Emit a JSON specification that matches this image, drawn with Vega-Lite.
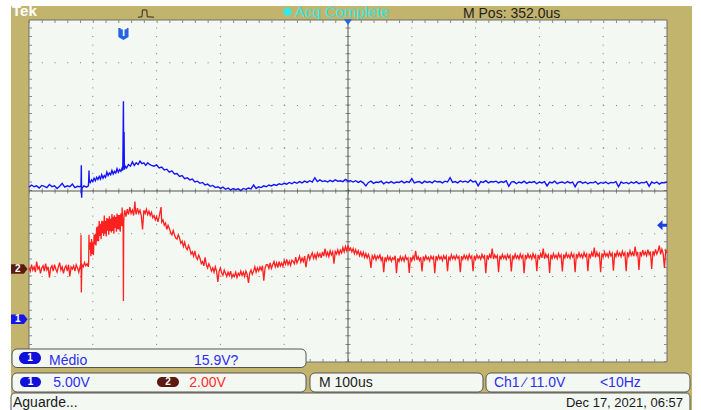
{
  "$schema": "https://vega.github.io/schema/vega-lite/v6.json",
  "width": 638,
  "height": 342,
  "autosize": {"type": "none"},
  "padding": {"left": 29, "top": 20, "right": 34, "bottom": 48},
  "background": "#ffffff",
  "config": {"view": {"stroke": null}, "text": {"font": "Liberation Sans"}},
  "resolve": {"scale": {"x": "shared", "y": "independent"}},
  "data": {"values": [{}]},
  "datasets": {
    "vgrid": [{"t": -48}, {"t": 52}, {"t": 152}, {"t": 252}, {"t": 452}, {"t": 552}, {"t": 652}, {"t": 752}],
    "hgrid": [{"d": -3}, {"d": -2}, {"d": -1}, {"d": 1}, {"d": 2}, {"d": 3}],
    "ch1": [
      {"t":-148,"v":15.45},{"t":-144,"v":15.7},{"t":-140,"v":15.5},{"t":-136,"v":15.6},{"t":-132,"v":15.35},{"t":-128,"v":15.65},{"t":-124,"v":15.55},{"t":-120,"v":15.4},{"t":-116,"v":15.75},{"t":-112,"v":15.5},{"t":-108,"v":15.6},{"t":-104,"v":15.3},{"t":-100,"v":15.55},{"t":-96,"v":15.9},{"t":-92,"v":15.45},{"t":-88,"v":15.6},{"t":-84,"v":15.5},{"t":-80,"v":15.8},{"t":-76,"v":15.4},{"t":-72,"v":15.55},{"t":-68,"v":15.5},{"t":-66.5,"v":15.6},{"t":-66,"v":18.0},{"t":-65.5,"v":14.2},{"t":-65,"v":15.3},{"t":-62,"v":15.6},{"t":-58,"v":15.45},{"t":-55,"v":15.6},{"t":-54.5,"v":16.0},{"t":-54,"v":17.4},{"t":-53.5,"v":16.2},{"t":-52,"v":16.0},{"t":-50,"v":16.3},{"t":-48,"v":16.1},{"t":-46,"v":16.5},{"t":-44,"v":16.2},{"t":-42,"v":16.6},{"t":-40,"v":16.35},{"t":-38,"v":16.7},{"t":-36,"v":16.4},{"t":-34,"v":16.9},{"t":-32,"v":16.5},{"t":-30,"v":16.8},{"t":-28,"v":16.6},{"t":-26,"v":17.2},{"t":-24,"v":16.8},{"t":-22,"v":17.1},{"t":-20,"v":16.9},{"t":-18,"v":17.4},{"t":-16,"v":17.0},{"t":-14,"v":17.3},{"t":-12,"v":17.1},{"t":-10,"v":17.6},{"t":-8,"v":17.2},{"t":-6,"v":17.5},{"t":-4,"v":17.3},{"t":-2,"v":17.7},{"t":-1,"v":17.4},{"t":0,"v":25.5},{"t":0.5,"v":17.6},{"t":1,"v":21.9},{"t":1.5,"v":17.5},{"t":3,"v":17.9},{"t":5,"v":17.7},{"t":8,"v":18.1},{"t":11,"v":17.9},{"t":14,"v":18.4},{"t":17,"v":18.0},{"t":20,"v":18.3},{"t":23,"v":18.1},{"t":26,"v":18.5},{"t":29,"v":18.2},{"t":32,"v":18.3},{"t":35,"v":18.0},{"t":38,"v":18.3},{"t":41,"v":18.1},{"t":44,"v":18.0},{"t":48,"v":17.9},{"t":52,"v":18.05},{"t":56,"v":17.7},{"t":60,"v":17.8},{"t":64,"v":17.45},{"t":68,"v":17.55},{"t":72,"v":17.2},{"t":76,"v":17.35},{"t":80,"v":17.0},{"t":84,"v":17.05},{"t":88,"v":16.7},{"t":92,"v":16.8},{"t":96,"v":16.45},{"t":100,"v":16.55},{"t":104,"v":16.3},{"t":108,"v":16.4},{"t":112,"v":16.05},{"t":116,"v":16.15},{"t":120,"v":15.9},{"t":124,"v":16.0},{"t":128,"v":15.7},{"t":132,"v":15.8},{"t":136,"v":15.55},{"t":140,"v":15.65},{"t":144,"v":15.4},{"t":148,"v":15.5},{"t":152,"v":15.3},{"t":156,"v":15.45},{"t":160,"v":15.2},{"t":164,"v":15.35},{"t":168,"v":15.1},{"t":172,"v":15.3},{"t":176,"v":15.15},{"t":180,"v":15.25},{"t":184,"v":15.05},{"t":188,"v":15.3},{"t":192,"v":15.2},{"t":196,"v":15.35},{"t":200,"v":15.25},{"t":204,"v":15.7},{"t":208,"v":15.3},{"t":212,"v":15.5},{"t":216,"v":15.4},{"t":220,"v":15.6},{"t":224,"v":15.5},{"t":228,"v":15.7},{"t":232,"v":15.6},{"t":236,"v":15.75},{"t":240,"v":15.65},{"t":244,"v":15.85},{"t":248,"v":15.75},{"t":252,"v":15.9},{"t":256,"v":15.8},{"t":260,"v":16.0},{"t":264,"v":15.85},{"t":268,"v":16.05},{"t":272,"v":15.9},{"t":276,"v":16.1},{"t":280,"v":15.95},{"t":284,"v":16.15},{"t":288,"v":16.0},{"t":292,"v":16.2},{"t":296,"v":16.05},{"t":300,"v":16.55},{"t":304,"v":16.1},{"t":308,"v":16.3},{"t":312,"v":16.1},{"t":316,"v":16.2},{"t":320,"v":16.05},{"t":324,"v":16.25},{"t":328,"v":16.1},{"t":332,"v":16.3},{"t":336,"v":16.15},{"t":340,"v":16.2},{"t":344,"v":16.1},{"t":348,"v":16.35},{"t":352,"v":16.15},{"t":356,"v":16.2},{"t":360,"v":16.05},{"t":364,"v":16.2},{"t":368,"v":16.0},{"t":372,"v":16.15},{"t":376,"v":15.95},{"t":380,"v":15.6},{"t":384,"v":16.0},{"t":388,"v":16.15},{"t":392,"v":15.9},{"t":396,"v":16.05},{"t":400,"v":16.0},{"t":404,"v":16.15},{"t":408,"v":15.85},{"t":412,"v":16.05},{"t":416,"v":15.95},{"t":420,"v":16.1},{"t":424,"v":15.9},{"t":428,"v":16.05},{"t":432,"v":16.0},{"t":436,"v":16.15},{"t":440,"v":15.95},{"t":444,"v":16.1},{"t":448,"v":16.0},{"t":452,"v":16.45},{"t":456,"v":15.95},{"t":460,"v":16.05},{"t":464,"v":16.1},{"t":468,"v":15.9},{"t":472,"v":16.15},{"t":476,"v":16.0},{"t":480,"v":16.1},{"t":484,"v":15.95},{"t":488,"v":16.2},{"t":492,"v":16.05},{"t":496,"v":16.1},{"t":500,"v":15.95},{"t":504,"v":16.15},{"t":508,"v":16.05},{"t":512,"v":16.55},{"t":516,"v":16.0},{"t":520,"v":16.1},{"t":524,"v":15.95},{"t":528,"v":16.2},{"t":532,"v":16.05},{"t":536,"v":16.15},{"t":540,"v":16.0},{"t":544,"v":16.3},{"t":548,"v":16.05},{"t":552,"v":16.15},{"t":556,"v":15.6},{"t":560,"v":16.1},{"t":564,"v":16.0},{"t":568,"v":16.2},{"t":572,"v":15.95},{"t":576,"v":16.1},{"t":580,"v":16.05},{"t":584,"v":16.15},{"t":588,"v":15.95},{"t":592,"v":16.1},{"t":596,"v":16.0},{"t":600,"v":16.2},{"t":604,"v":15.55},{"t":608,"v":16.05},{"t":612,"v":16.1},{"t":616,"v":15.85},{"t":620,"v":16.05},{"t":624,"v":15.95},{"t":628,"v":16.15},{"t":632,"v":15.9},{"t":636,"v":16.05},{"t":640,"v":16.0},{"t":644,"v":16.1},{"t":648,"v":15.85},{"t":652,"v":16.05},{"t":656,"v":15.95},{"t":660,"v":16.1},{"t":664,"v":15.6},{"t":668,"v":16.05},{"t":672,"v":15.95},{"t":676,"v":16.15},{"t":680,"v":15.85},{"t":684,"v":16.0},{"t":688,"v":16.05},{"t":692,"v":15.9},{"t":696,"v":16.1},{"t":700,"v":15.95},{"t":704,"v":16.05},{"t":708,"v":15.5},{"t":712,"v":16.0},{"t":716,"v":16.1},{"t":720,"v":15.9},{"t":724,"v":16.05},{"t":728,"v":15.85},{"t":732,"v":16.0},{"t":736,"v":15.95},{"t":740,"v":16.1},{"t":744,"v":15.8},{"t":748,"v":16.0},{"t":752,"v":15.9},{"t":756,"v":16.05},{"t":760,"v":15.85},{"t":764,"v":16.0},{"t":768,"v":15.95},{"t":772,"v":16.1},{"t":776,"v":15.5},{"t":780,"v":16.05},{"t":784,"v":15.9},{"t":788,"v":16.0},{"t":792,"v":15.85},{"t":796,"v":16.05},{"t":800,"v":15.9},{"t":804,"v":16.1},{"t":808,"v":15.85},{"t":812,"v":16.0},{"t":816,"v":15.95},{"t":820,"v":16.1},{"t":824,"v":15.55},{"t":828,"v":16.05},{"t":832,"v":15.9},{"t":836,"v":16.05},{"t":840,"v":15.8},{"t":844,"v":16.0},{"t":848,"v":15.95},{"t":852,"v":16.05}
    ],
    "ch2": [
      {"t":-148,"v":0.05},{"t":-146,"v":-0.1},{"t":-144,"v":0.2},{"t":-142,"v":-0.05},{"t":-140,"v":0.1},{"t":-138,"v":-0.15},{"t":-136,"v":0.35},{"t":-134,"v":0.0},{"t":-132,"v":0.1},{"t":-130,"v":-0.2},{"t":-128,"v":0.05},{"t":-126,"v":0.15},{"t":-124,"v":-0.1},{"t":-122,"v":0.25},{"t":-120,"v":-0.05},{"t":-118,"v":0.1},{"t":-116,"v":-0.4},{"t":-114,"v":0.05},{"t":-112,"v":0.15},{"t":-110,"v":-0.1},{"t":-108,"v":0.2},{"t":-106,"v":0.0},{"t":-104,"v":-0.15},{"t":-102,"v":0.1},{"t":-100,"v":0.3},{"t":-98,"v":-0.05},{"t":-96,"v":0.1},{"t":-94,"v":-0.2},{"t":-92,"v":0.05},{"t":-90,"v":0.15},{"t":-88,"v":-0.1},{"t":-86,"v":0.2},{"t":-84,"v":-0.35},{"t":-82,"v":0.1},{"t":-80,"v":0.0},{"t":-78,"v":0.15},{"t":-76,"v":-0.1},{"t":-74,"v":0.2},{"t":-72,"v":0.05},{"t":-70,"v":-0.15},{"t":-68,"v":0.1},{"t":-67,"v":0.0},{"t":-66.5,"v":1.6},{"t":-66,"v":-1.1},{"t":-65.5,"v":-0.4},{"t":-65,"v":0.2},{"t":-63,"v":0.1},{"t":-61,"v":0.3},{"t":-59,"v":0.15},{"t":-57,"v":0.25},{"t":-55,"v":0.1},{"t":-54.5,"v":0.3},{"t":-54,"v":1.6},{"t":-53.5,"v":0.9},{"t":-53,"v":1.1},
      {"t":-52,"v":1.25},{"t":-51,"v":0.6},{"t":-50,"v":1.4},{"t":-49,"v":0.7},{"t":-48,"v":1.25},{"t":-47,"v":0.65},{"t":-46,"v":1.6},{"t":-45,"v":1.15},{"t":-44,"v":1.65},{"t":-43,"v":1.1},{"t":-42,"v":1.95},{"t":-41,"v":1.3},{"t":-40,"v":2.0},{"t":-39,"v":1.3},{"t":-38,"v":2.25},{"t":-37,"v":1.55},{"t":-36,"v":2.12},{"t":-35,"v":1.39},{"t":-34,"v":2.26},{"t":-33,"v":1.67},{"t":-32,"v":2.23},{"t":-31,"v":1.55},{"t":-30,"v":2.5},{"t":-29,"v":1.65},{"t":-28,"v":2.26},{"t":-27,"v":1.52},{"t":-26,"v":2.38},{"t":-25,"v":1.79},{"t":-24,"v":2.35},{"t":-23,"v":1.6},{"t":-22,"v":2.47},{"t":-21,"v":1.78},{"t":-20,"v":2.35},{"t":-19,"v":1.71},{"t":-18,"v":2.57},{"t":-17,"v":1.78},{"t":-16,"v":2.44},{"t":-15,"v":1.65},{"t":-14,"v":2.51},{"t":-13,"v":1.92},{"t":-12,"v":2.43},{"t":-11,"v":1.74},{"t":-10,"v":2.6},{"t":-9,"v":1.86},{"t":-8,"v":2.53},{"t":-7,"v":1.85},{"t":-6,"v":2.52},{"t":-5,"v":1.74},{"t":-4,"v":2.6},{"t":-3,"v":2.01},{"t":-2,"v":2.88},{"t":-1,"v":2.0},{"t":-0.5,"v":2.3},{"t":0,"v":-1.5},{"t":0.5,"v":2.2},{"t":1,"v":2.5},
      {"t":2,"v":2.75},{"t":4,"v":2.45},{"t":6,"v":2.8},{"t":8,"v":2.55},{"t":10,"v":2.9},{"t":12,"v":2.6},{"t":14,"v":2.75},{"t":16,"v":2.5},{"t":18,"v":3.15},{"t":19,"v":2.7},{"t":20,"v":2.55},{"t":22,"v":2.85},{"t":24,"v":2.6},{"t":26,"v":2.75},{"t":28,"v":2.5},{"t":30,"v":1.85},{"t":32,"v":2.75},{"t":34,"v":2.6},{"t":36,"v":2.8},{"t":38,"v":2.55},{"t":40,"v":2.7},{"t":42,"v":2.5},{"t":44,"v":2.65},{"t":46,"v":2.4},{"t":48,"v":2.5},{"t":50,"v":2.3},{"t":52,"v":2.45},{"t":54,"v":2.2},{"t":56,"v":2.45},{"t":59,"v":2.9},{"t":60,"v":2.2},{"t":62,"v":2.3},{"t":64,"v":2.05},{"t":66,"v":2.15},{"t":68,"v":1.85},{"t":70,"v":2.05},{"t":72,"v":1.9},{"t":74,"v":1.7},{"t":76,"v":1.6},{"t":78,"v":1.8},{"t":80,"v":1.6},{"t":82,"v":1.45},{"t":84,"v":1.4},{"t":86,"v":1.6},{"t":88,"v":1.45},{"t":90,"v":1.2},{"t":92,"v":1.3},{"t":94,"v":1.05},{"t":96,"v":1.25},{"t":98,"v":1.0},{"t":100,"v":0.9},{"t":102,"v":1.1},{"t":104,"v":0.95},{"t":106,"v":0.7},{"t":108,"v":0.8},{"t":110,"v":0.6},{"t":112,"v":0.85},{"t":114,"v":0.55},{"t":116,"v":0.45},{"t":118,"v":0.65},{"t":120,"v":0.5},{"t":122,"v":0.25},{"t":124,"v":0.35},{"t":126,"v":0.15},{"t":128,"v":0.55},{"t":130,"v":0.2},{"t":132,"v":0.05},{"t":134,"v":0.25},{"t":136,"v":0.1},{"t":138,"v":-0.1},{"t":140,"v":0.05},{"t":142,"v":-0.15},{"t":144,"v":0.1},{"t":146,"v":-0.1},{"t":148,"v":-0.6},{"t":150,"v":-0.1},{"t":152,"v":0.05},{"t":154,"v":-0.2},{"t":156,"v":-0.3},{"t":158,"v":-0.05},{"t":160,"v":-0.2},{"t":162,"v":-0.35},{"t":164,"v":-0.15},{"t":166,"v":-0.3},{"t":168,"v":-0.1},{"t":170,"v":-0.4},{"t":172,"v":-0.25},{"t":174,"v":-0.35},{"t":176,"v":-0.15},{"t":178,"v":-0.4},{"t":180,"v":-0.2},{"t":182,"v":-0.3},{"t":184,"v":-0.1},{"t":186,"v":-0.3},{"t":188,"v":-0.15},{"t":190,"v":-0.35},{"t":192,"v":-0.1},{"t":194,"v":-0.25},{"t":196,"v":-0.65},{"t":198,"v":-0.2},{"t":200,"v":-0.05},{"t":202,"v":-0.25},{"t":204,"v":-0.1},{"t":206,"v":0.1},{"t":208,"v":-0.15},{"t":210,"v":0.05},{"t":212,"v":-0.1},{"t":214,"v":0.1},{"t":216,"v":-0.05},{"t":218,"v":0.15},{"t":220,"v":-0.55},{"t":222,"v":0.05},{"t":224,"v":0.2},
      {"t":226,"v":0.2},{"t":228,"v":0.03},{"t":230,"v":0.28},{"t":232,"v":0.03},{"t":234,"v":0.2},{"t":236,"v":0.35},{"t":238,"v":0.1},{"t":240,"v":0.29},{"t":242,"v":0.07},{"t":244,"v":0.35},{"t":246,"v":0.14},{"t":248,"v":0.28},{"t":250,"v":0.12},{"t":252,"v":0.4},{"t":254,"v":0.22},{"t":256,"v":0.45},{"t":258,"v":0.2},{"t":260,"v":0.36},{"t":262,"v":0.17},{"t":264,"v":0.41},{"t":266,"v":0.35},{"t":268,"v":0.24},{"t":270,"v":0.55},{"t":272,"v":0.28},{"t":274,"v":0.42},{"t":276,"v":0.6},{"t":278,"v":0.33},{"t":280,"v":0.51},{"t":282,"v":0.35},{"t":284,"v":0.6},{"t":286,"v":0.08},{"t":288,"v":0.46},{"t":290,"v":0.7},{"t":292,"v":0.44},{"t":294,"v":0.62},{"t":296,"v":0.76},{"t":298,"v":0.5},{"t":300,"v":0.68},{"t":302,"v":0.48},{"t":304,"v":0.75},{"t":306,"v":0.58},{"t":308,"v":0.72},{"t":310,"v":0.52},{"t":312,"v":0.8},{"t":314,"v":0.6},{"t":316,"v":0.95},{"t":318,"v":0.62},{"t":320,"v":0.78},{"t":322,"v":0.58},{"t":324,"v":0.85},{"t":326,"v":0.66},{"t":328,"v":0.8},{"t":330,"v":0.25},{"t":332,"v":0.82},{"t":334,"v":0.7},{"t":336,"v":0.9},{"t":338,"v":0.68},{"t":340,"v":0.88},{"t":342,"v":0.75},{"t":344,"v":1.0},{"t":346,"v":0.8},{"t":348,"v":1.05},{"t":350,"v":0.85},{"t":352,"v":1.1},{"t":354,"v":0.88},{"t":356,"v":0.98},{"t":358,"v":0.8},{"t":360,"v":0.95},{"t":362,"v":0.72},{"t":364,"v":0.9},{"t":366,"v":0.7},{"t":368,"v":0.85},{"t":370,"v":0.62},{"t":372,"v":0.8},{"t":374,"v":0.6},{"t":376,"v":0.78},{"t":378,"v":0.55},{"t":380,"v":0.72},{"t":382,"v":0.52},{"t":384,"v":0.68},{"t":386,"v":0.5},{"t":388,"v":0.05},{"t":390,"v":0.62},{"t":392,"v":0.48},{"t":394,"v":0.65},{"t":396,"v":0.42},{"t":398,"v":0.6},{"t":400,"v":0.5},{"t":402,"v":0.66},{"t":404,"v":0.4},{"t":406,"v":0.58},{"t":408,"v":-0.15},{"t":410,"v":0.55},{"t":412,"v":0.38},{"t":414,"v":0.6},{"t":416,"v":0.42},{"t":418,"v":0.56},{"t":420,"v":0.36},{"t":422,"v":0.52},{"t":424,"v":0.45},{"t":426,"v":0.62},{"t":428,"v":-0.2},{"t":430,"v":0.5},{"t":432,"v":0.35},{"t":434,"v":0.58},{"t":436,"v":0.4},{"t":438,"v":0.55},{"t":440,"v":0.38},{"t":442,"v":0.62},{"t":444,"v":0.45},{"t":446,"v":0.52},{"t":448,"v":-0.18},{"t":450,"v":0.55},{"t":452,"v":0.38},{"t":454,"v":0.6},{"t":456,"v":0.45},{"t":458,"v":0.85},{"t":460,"v":0.42},{"t":462,"v":0.58},{"t":464,"v":0.4},{"t":466,"v":0.55},{"t":468,"v":-0.12},{"t":470,"v":0.58},{"t":472,"v":0.42},{"t":474,"v":0.62},{"t":476,"v":0.45},{"t":478,"v":0.55},{"t":480,"v":0.38},{"t":482,"v":0.6},{"t":484,"v":0.47},{"t":486,"v":0.57},{"t":488,"v":-0.2},{"t":490,"v":0.6},{"t":492,"v":0.44},{"t":494,"v":0.63},{"t":496,"v":0.46},{"t":498,"v":0.58},{"t":500,"v":0.4},{"t":502,"v":0.62},{"t":504,"v":0.48},{"t":506,"v":0.6},{"t":508,"v":-0.1},{"t":510,"v":0.58},{"t":512,"v":0.43},{"t":514,"v":0.66},{"t":516,"v":0.48},{"t":518,"v":0.6},{"t":520,"v":0.45},{"t":522,"v":0.64},{"t":524,"v":0.5},{"t":526,"v":0.58},{"t":528,"v":-0.15},{"t":530,"v":0.6},{"t":532,"v":0.45},{"t":534,"v":0.65},{"t":536,"v":0.48},{"t":538,"v":0.62},{"t":540,"v":0.44},{"t":542,"v":0.68},{"t":544,"v":0.5},{"t":546,"v":0.6},{"t":548,"v":-0.1},{"t":550,"v":0.62},{"t":552,"v":0.45},{"t":554,"v":0.66},{"t":556,"v":0.5},{"t":558,"v":0.6},{"t":560,"v":0.46},{"t":562,"v":0.68},{"t":564,"v":0.52},{"t":566,"v":0.62},{"t":568,"v":-0.2},{"t":570,"v":0.64},{"t":572,"v":0.48},{"t":574,"v":0.67},{"t":576,"v":0.5},{"t":578,"v":0.95},{"t":580,"v":0.47},{"t":582,"v":0.66},{"t":584,"v":0.52},{"t":586,"v":0.63},{"t":588,"v":-0.15},{"t":590,"v":0.62},{"t":592,"v":0.48},{"t":594,"v":0.68},{"t":596,"v":0.5},{"t":598,"v":0.62},{"t":600,"v":0.45},{"t":602,"v":0.67},{"t":604,"v":0.52},{"t":606,"v":0.64},{"t":608,"v":-0.12},{"t":610,"v":0.63},{"t":612,"v":0.48},{"t":614,"v":0.7},{"t":616,"v":0.5},{"t":618,"v":0.62},{"t":620,"v":0.46},{"t":622,"v":0.7},{"t":624,"v":0.52},{"t":626,"v":0.64},{"t":628,"v":-0.2},{"t":630,"v":0.66},{"t":632,"v":0.5},{"t":634,"v":0.7},{"t":636,"v":0.52},{"t":638,"v":0.64},{"t":640,"v":0.47},{"t":642,"v":0.72},{"t":644,"v":0.53},{"t":646,"v":0.65},{"t":648,"v":-0.1},{"t":650,"v":0.66},{"t":652,"v":0.5},{"t":654,"v":0.72},{"t":656,"v":0.52},{"t":658,"v":0.95},{"t":660,"v":0.48},{"t":662,"v":0.7},{"t":664,"v":0.54},{"t":666,"v":0.66},{"t":668,"v":-0.18},{"t":670,"v":0.67},{"t":672,"v":0.5},{"t":674,"v":0.72},{"t":676,"v":0.53},{"t":678,"v":0.65},{"t":680,"v":0.48},{"t":682,"v":0.73},{"t":684,"v":0.55},{"t":686,"v":0.66},{"t":688,"v":-0.12},{"t":690,"v":0.68},{"t":692,"v":0.52},{"t":694,"v":0.74},{"t":696,"v":0.55},{"t":698,"v":0.66},{"t":700,"v":0.5},{"t":702,"v":0.75},{"t":704,"v":0.56},{"t":706,"v":0.68},{"t":708,"v":-0.15},{"t":710,"v":0.7},{"t":712,"v":0.54},{"t":714,"v":0.76},{"t":716,"v":0.56},{"t":718,"v":0.68},{"t":720,"v":0.52},{"t":722,"v":0.77},{"t":724,"v":0.58},{"t":726,"v":0.7},{"t":728,"v":-0.1},{"t":730,"v":0.72},{"t":732,"v":0.55},{"t":734,"v":0.78},{"t":736,"v":0.58},{"t":738,"v":1.0},{"t":740,"v":0.54},{"t":742,"v":0.78},{"t":744,"v":0.6},{"t":746,"v":0.72},{"t":748,"v":-0.15},{"t":750,"v":0.73},{"t":752,"v":0.57},{"t":754,"v":0.8},{"t":756,"v":0.6},{"t":758,"v":0.72},{"t":760,"v":0.56},{"t":762,"v":0.8},{"t":764,"v":0.62},{"t":766,"v":0.74},{"t":768,"v":-0.08},{"t":770,"v":0.75},{"t":772,"v":0.58},{"t":774,"v":0.82},{"t":776,"v":0.62},{"t":778,"v":0.75},{"t":780,"v":0.58},{"t":782,"v":0.83},{"t":784,"v":0.64},{"t":786,"v":0.76},{"t":788,"v":-0.1},{"t":790,"v":0.78},{"t":792,"v":0.6},{"t":794,"v":0.85},{"t":796,"v":0.64},{"t":798,"v":0.78},{"t":800,"v":0.6},{"t":802,"v":1.05},{"t":804,"v":0.66},{"t":806,"v":0.8},{"t":808,"v":-0.05},{"t":810,"v":0.8},{"t":812,"v":0.63},{"t":814,"v":0.88},{"t":816,"v":0.66},{"t":818,"v":0.8},{"t":820,"v":0.62},{"t":822,"v":0.9},{"t":824,"v":0.68},{"t":826,"v":0.82},{"t":828,"v":0.0},{"t":830,"v":0.83},{"t":832,"v":0.66},{"t":834,"v":0.92},{"t":836,"v":0.7},{"t":838,"v":0.84},{"t":840,"v":1.1},{"t":842,"v":0.68},{"t":844,"v":0.92},{"t":846,"v":0.72},{"t":848,"v":0.05},{"t":850,"v":0.86},{"t":852,"v":0.75}
    ]
  },
  "layer": [
    {"mark": {"type": "rect", "fill": "#c2b46c"},
     "encoding": {
       "x": {"datum": -176.2, "type": "quantitative", "scale": {"domain": [-148, 852]}, "axis": null},
       "x2": {"datum": 891.2},
       "y": {"datum": 4.327, "type": "quantitative", "scale": {"domain": [-4, 4]}, "axis": null},
       "y2": {"datum": -5.3}}},
    {"mark": {"type": "text", "text": "Tek", "font": "Liberation Sans", "fontSize": 15, "fontWeight": "bold", "color": "#ffffff", "align": "left", "baseline": "alphabetic"},
     "encoding": {
       "x": {"datum": -174.6, "type": "quantitative", "scale": {"domain": [-148, 852]}, "axis": null},
       "y": {"datum": 4.094, "type": "quantitative", "scale": {"domain": [-4, 4]}, "axis": null}}},
    {"mark": {"type": "point", "shape": "M -1 0.45 L -0.5 0.4 L -0.45 -0.45 L 0.1 -0.45 L 0.15 0.4 L 1 0.45", "filled": false, "stroke": "#2a2a2a", "strokeWidth": 1, "size": 256, "opacity": 1},
     "encoding": {
       "x": {"datum": 35.4, "type": "quantitative", "scale": {"domain": [-148, 852]}, "axis": null},
       "y": {"datum": 4.15, "type": "quantitative", "scale": {"domain": [-4, 4]}, "axis": null}}},
    {"mark": {"type": "point", "shape": "circle", "filled": true, "color": "#30eaea", "size": 64, "opacity": 1},
     "encoding": {
       "x": {"datum": 257.2, "type": "quantitative", "scale": {"domain": [-148, 852]}, "axis": null},
       "y": {"datum": 4.194, "type": "quantitative", "scale": {"domain": [-4, 4]}, "axis": null}}},
    {"mark": {"type": "text", "text": "Acq Complete", "font": "Liberation Sans", "fontSize": 15, "color": "#30e6e6", "align": "left", "baseline": "alphabetic"},
     "encoding": {
       "x": {"datum": 268.9, "type": "quantitative", "scale": {"domain": [-148, 852]}, "axis": null},
       "y": {"datum": 4.06, "type": "quantitative", "scale": {"domain": [-4, 4]}, "axis": null}}},
    {"mark": {"type": "text", "text": "M Pos: 352.0us", "font": "Liberation Sans", "fontSize": 14, "color": "#1e1e1e", "align": "left", "baseline": "alphabetic"},
     "encoding": {
       "x": {"datum": 532.2, "type": "quantitative", "scale": {"domain": [-148, 852]}, "axis": null},
       "y": {"datum": 4.04, "type": "quantitative", "scale": {"domain": [-4, 4]}, "axis": null}}},
    {"mark": {"type": "rect", "fill": "#f4f8f3", "stroke": "#6e6e6e", "strokeWidth": 1},
     "encoding": {
       "x": {"datum": -148, "type": "quantitative", "scale": {"domain": [-148, 852]}, "axis": null},
       "x2": {"datum": 852},
       "y": {"datum": -4, "type": "quantitative", "scale": {"domain": [-4, 4]}, "axis": null},
       "y2": {"datum": 4}}},
    {"data": {"name": "vgrid"},
     "mark": {"type": "rule", "color": "#7a7a7a", "strokeWidth": 1, "strokeDash": [1, 7.55]},
     "encoding": {
       "x": {"field": "t", "type": "quantitative", "scale": {"domain": [-148, 852]}, "axis": null},
       "y": {"datum": -4, "type": "quantitative", "scale": {"domain": [-4, 4]}, "axis": null},
       "y2": {"datum": 4}}},
    {"data": {"name": "hgrid"},
     "mark": {"type": "rule", "color": "#7a7a7a", "strokeWidth": 1, "strokeDash": [1, 11.76]},
     "encoding": {
       "y": {"field": "d", "type": "quantitative", "scale": {"domain": [-4, 4]}, "axis": null},
       "x": {"datum": -148, "type": "quantitative", "scale": {"domain": [-148, 852]}, "axis": null},
       "x2": {"datum": 852}}},
    {"mark": {"type": "rule", "color": "#8a8a8a", "strokeWidth": 3, "strokeDash": [1, 11.76]},
     "encoding": {
       "y": {"datum": 3.965, "type": "quantitative", "scale": {"domain": [-4, 4]}, "axis": null},
       "x": {"datum": -148, "type": "quantitative", "scale": {"domain": [-148, 852]}, "axis": null},
       "x2": {"datum": 852}}},
    {"mark": {"type": "rule", "color": "#8a8a8a", "strokeWidth": 3, "strokeDash": [1, 11.76]},
     "encoding": {
       "y": {"datum": -3.965, "type": "quantitative", "scale": {"domain": [-4, 4]}, "axis": null},
       "x": {"datum": -148, "type": "quantitative", "scale": {"domain": [-148, 852]}, "axis": null},
       "x2": {"datum": 852}}},
    {"mark": {"type": "rule", "color": "#8a8a8a", "strokeWidth": 3, "strokeDash": [1, 7.55]},
     "encoding": {
       "x": {"datum": -145.65, "type": "quantitative", "scale": {"domain": [-148, 852]}, "axis": null},
       "y": {"datum": -4, "type": "quantitative", "scale": {"domain": [-4, 4]}, "axis": null},
       "y2": {"datum": 4}}},
    {"mark": {"type": "rule", "color": "#8a8a8a", "strokeWidth": 3, "strokeDash": [1, 7.55]},
     "encoding": {
       "x": {"datum": 849.65, "type": "quantitative", "scale": {"domain": [-148, 852]}, "axis": null},
       "y": {"datum": -4, "type": "quantitative", "scale": {"domain": [-4, 4]}, "axis": null},
       "y2": {"datum": 4}}},
    {"mark": {"type": "rule", "color": "#8a8a8a", "strokeWidth": 5, "strokeDash": [1, 11.76]},
     "encoding": {
       "y": {"datum": 0, "type": "quantitative", "scale": {"domain": [-4, 4]}, "axis": null},
       "x": {"datum": -148, "type": "quantitative", "scale": {"domain": [-148, 852]}, "axis": null},
       "x2": {"datum": 852}}},
    {"mark": {"type": "rule", "color": "#8a8a8a", "strokeWidth": 5, "strokeDash": [1, 7.55]},
     "encoding": {
       "x": {"datum": 352, "type": "quantitative", "scale": {"domain": [-148, 852]}, "axis": null},
       "y": {"datum": -4, "type": "quantitative", "scale": {"domain": [-4, 4]}, "axis": null},
       "y2": {"datum": 4}}},
    {"mark": {"type": "rule", "color": "#555555", "strokeWidth": 1},
     "encoding": {
       "y": {"datum": 0, "type": "quantitative", "scale": {"domain": [-4, 4]}, "axis": null},
       "x": {"datum": -148, "type": "quantitative", "scale": {"domain": [-148, 852]}, "axis": null},
       "x2": {"datum": 852}}},
    {"mark": {"type": "rule", "color": "#555555", "strokeWidth": 1},
     "encoding": {
       "x": {"datum": 352, "type": "quantitative", "scale": {"domain": [-148, 852]}, "axis": null},
       "y": {"datum": -4, "type": "quantitative", "scale": {"domain": [-4, 4]}, "axis": null},
       "y2": {"datum": 4}}},
    {"data": {"name": "ch2"},
     "mark": {"type": "line", "color": "#ff2020", "strokeWidth": 1.3},
     "encoding": {
       "x": {"field": "t", "type": "quantitative", "scale": {"domain": [-148, 852]}, "axis": null},
       "y": {"field": "v", "type": "quantitative", "scale": {"domain": [-4.351, 11.649]}, "axis": null}}},
    {"data": {"name": "ch1"},
     "mark": {"type": "line", "color": "#1414ff", "strokeWidth": 1.4},
     "encoding": {
       "x": {"field": "t", "type": "quantitative", "scale": {"domain": [-148, 852]}, "axis": null},
       "y": {"field": "v", "type": "quantitative", "scale": {"domain": [-5, 35]}, "axis": null}}},
    {"mark": {"type": "point", "shape": "M -0.85 -1 L 0.85 -1 L 0.85 0.5 L 0 1 L -0.85 0.5 Z", "filled": true, "color": "#2563e0", "size": 144, "opacity": 1},
     "encoding": {
       "x": {"datum": 0, "type": "quantitative", "scale": {"domain": [-148, 852]}, "axis": null},
       "y": {"datum": 3.673, "type": "quantitative", "scale": {"domain": [-4, 4]}, "axis": null}}},
    {"mark": {"type": "text", "text": "T", "font": "Liberation Sans", "fontSize": 10, "fontWeight": "bold", "color": "#ffffff", "align": "center", "baseline": "middle", "dy": -1},
     "encoding": {
       "x": {"datum": 0, "type": "quantitative", "scale": {"domain": [-148, 852]}, "axis": null},
       "y": {"datum": 3.673, "type": "quantitative", "scale": {"domain": [-4, 4]}, "axis": null}}},
    {"mark": {"type": "point", "shape": "M -1 -0.7 L 1 -0.7 L 0 0.7 Z", "filled": true, "color": "#2266dd", "size": 64, "opacity": 1},
     "encoding": {
       "x": {"datum": 352, "type": "quantitative", "scale": {"domain": [-148, 852]}, "axis": null},
       "y": {"datum": 3.95, "type": "quantitative", "scale": {"domain": [-4, 4]}, "axis": null}}},
    {"mark": {"type": "point", "shape": "M -1 0 L 0.1 -1 L 0.1 -0.3 L 1 -0.3 L 1 0.3 L 0.1 0.3 L 0.1 1 Z", "filled": true, "color": "#1f3fe6", "size": 100, "opacity": 1},
     "encoding": {
       "x": {"datum": 844.2, "type": "quantitative", "scale": {"domain": [-148, 852]}, "axis": null},
       "y": {"datum": 11.0, "type": "quantitative", "scale": {"domain": [-5, 35]}, "axis": null}}},
    {"mark": {"type": "point", "shape": "M -1 -0.58 L 0.55 -0.58 L 1 0 L 0.55 0.58 L -1 0.58 Z", "filled": true, "color": "#5b1b12", "size": 272, "opacity": 1},
     "encoding": {
       "x": {"datum": -163.3, "type": "quantitative", "scale": {"domain": [-148, 852]}, "axis": null},
       "y": {"datum": 0, "type": "quantitative", "scale": {"domain": [-4.351, 11.649]}, "axis": null}}},
    {"mark": {"type": "text", "text": "2", "font": "Liberation Sans", "fontSize": 10, "fontWeight": "bold", "color": "#ffffff", "align": "center", "baseline": "middle"},
     "encoding": {
       "x": {"datum": -165.5, "type": "quantitative", "scale": {"domain": [-148, 852]}, "axis": null},
       "y": {"datum": 0, "type": "quantitative", "scale": {"domain": [-4.351, 11.649]}, "axis": null}}},
    {"mark": {"type": "point", "shape": "M -1 -0.58 L 0.55 -0.58 L 1 0 L 0.55 0.58 L -1 0.58 Z", "filled": true, "color": "#1616e6", "size": 272, "opacity": 1},
     "encoding": {
       "x": {"datum": -163.3, "type": "quantitative", "scale": {"domain": [-148, 852]}, "axis": null},
       "y": {"datum": 0, "type": "quantitative", "scale": {"domain": [-5, 35]}, "axis": null}}},
    {"mark": {"type": "text", "text": "1", "font": "Liberation Sans", "fontSize": 10, "fontWeight": "bold", "color": "#ffffff", "align": "center", "baseline": "middle"},
     "encoding": {
       "x": {"datum": -165.5, "type": "quantitative", "scale": {"domain": [-148, 852]}, "axis": null},
       "y": {"datum": 0, "type": "quantitative", "scale": {"domain": [-5, 35]}, "axis": null}}},
    {"mark": {"type": "rect", "fill": "#f4f8f3", "stroke": "#555555", "strokeWidth": 1, "cornerRadius": 5},
     "encoding": {
       "x": {"datum": -174.6, "type": "quantitative", "scale": {"domain": [-148, 852]}, "axis": null},
       "x2": {"datum": 286.2},
       "y": {"datum": -3.696, "type": "quantitative", "scale": {"domain": [-4, 4]}, "axis": null},
       "y2": {"datum": -4.129}}},
    {"mark": {"type": "rect", "fill": "#f4f8f3", "stroke": "#555555", "strokeWidth": 1, "cornerRadius": 5},
     "encoding": {
       "x": {"datum": -174.6, "type": "quantitative", "scale": {"domain": [-148, 852]}, "axis": null},
       "x2": {"datum": 286.2},
       "y": {"datum": -4.257, "type": "quantitative", "scale": {"domain": [-4, 4]}, "axis": null},
       "y2": {"datum": -4.702}}},
    {"mark": {"type": "rect", "fill": "#f4f8f3", "stroke": "#555555", "strokeWidth": 1, "cornerRadius": 5},
     "encoding": {
       "x": {"datum": 292.4, "type": "quantitative", "scale": {"domain": [-148, 852]}, "axis": null},
       "x2": {"datum": 563.6},
       "y": {"datum": -4.257, "type": "quantitative", "scale": {"domain": [-4, 4]}, "axis": null},
       "y2": {"datum": -4.702}}},
    {"mark": {"type": "rect", "fill": "#f4f8f3", "stroke": "#555555", "strokeWidth": 1, "cornerRadius": 5},
     "encoding": {
       "x": {"datum": 568.3, "type": "quantitative", "scale": {"domain": [-148, 852]}, "axis": null},
       "x2": {"datum": 888},
       "y": {"datum": -4.257, "type": "quantitative", "scale": {"domain": [-4, 4]}, "axis": null},
       "y2": {"datum": -4.702}}},
    {"mark": {"type": "rect", "fill": "#f4f8f3", "stroke": "#555555", "strokeWidth": 1, "cornerRadius": 4},
     "encoding": {
       "x": {"datum": -176.2, "type": "quantitative", "scale": {"domain": [-148, 852]}, "axis": null},
       "x2": {"datum": 888},
       "y": {"datum": -4.725, "type": "quantitative", "scale": {"domain": [-4, 4]}, "axis": null},
       "y2": {"datum": -5.25}}},
    {"mark": {"type": "rect", "fill": "#1010d8", "cornerRadius": 6},
     "encoding": {
       "x": {"datum": -163.7, "type": "quantitative", "scale": {"domain": [-148, 852]}, "axis": null},
       "x2": {"datum": -129.2},
       "y": {"datum": -3.766, "type": "quantitative", "scale": {"domain": [-4, 4]}, "axis": null},
       "y2": {"datum": -4.047}}},
    {"mark": {"type": "text", "text": "1", "font": "Liberation Sans", "fontSize": 10, "fontWeight": "bold", "color": "#ffffff", "align": "center", "baseline": "middle"},
     "encoding": {
       "x": {"datum": -146.4, "type": "quantitative", "scale": {"domain": [-148, 852]}, "axis": null},
       "y": {"datum": -3.906, "type": "quantitative", "scale": {"domain": [-4, 4]}, "axis": null}}},
    {"mark": {"type": "text", "text": "Médio", "font": "Liberation Sans", "fontSize": 14, "color": "#2e2ef2", "align": "left", "baseline": "alphabetic"},
     "encoding": {
       "x": {"datum": -116.6, "type": "quantitative", "scale": {"domain": [-148, 852]}, "axis": null},
       "y": {"datum": -4.07, "type": "quantitative", "scale": {"domain": [-4, 4]}, "axis": null}}},
    {"mark": {"type": "text", "text": "15.9V?", "font": "Liberation Sans", "fontSize": 14, "color": "#2e2ef2", "align": "left", "baseline": "alphabetic"},
     "encoding": {
       "x": {"datum": 110.6, "type": "quantitative", "scale": {"domain": [-148, 852]}, "axis": null},
       "y": {"datum": -4.07, "type": "quantitative", "scale": {"domain": [-4, 4]}, "axis": null}}},
    {"mark": {"type": "rect", "fill": "#1010d8", "cornerRadius": 5},
     "encoding": {
       "x": {"datum": -162.1, "type": "quantitative", "scale": {"domain": [-148, 852]}, "axis": null},
       "x2": {"datum": -129.2},
       "y": {"datum": -4.351, "type": "quantitative", "scale": {"domain": [-4, 4]}, "axis": null},
       "y2": {"datum": -4.585}}},
    {"mark": {"type": "text", "text": "1", "font": "Liberation Sans", "fontSize": 10, "fontWeight": "bold", "color": "#ffffff", "align": "center", "baseline": "middle"},
     "encoding": {
       "x": {"datum": -145.6, "type": "quantitative", "scale": {"domain": [-148, 852]}, "axis": null},
       "y": {"datum": -4.468, "type": "quantitative", "scale": {"domain": [-4, 4]}, "axis": null}}},
    {"mark": {"type": "text", "text": "5.00V", "font": "Liberation Sans", "fontSize": 14, "color": "#2e2ef2", "align": "left", "baseline": "alphabetic"},
     "encoding": {
       "x": {"datum": -109.9, "type": "quantitative", "scale": {"domain": [-148, 852]}, "axis": null},
       "y": {"datum": -4.585, "type": "quantitative", "scale": {"domain": [-4, 4]}, "axis": null}}},
    {"mark": {"type": "rect", "fill": "#5e1a10", "cornerRadius": 5},
     "encoding": {
       "x": {"datum": 52.6, "type": "quantitative", "scale": {"domain": [-148, 852]}, "axis": null},
       "x2": {"datum": 87.1},
       "y": {"datum": -4.351, "type": "quantitative", "scale": {"domain": [-4, 4]}, "axis": null},
       "y2": {"datum": -4.585}}},
    {"mark": {"type": "text", "text": "2", "font": "Liberation Sans", "fontSize": 10, "fontWeight": "bold", "color": "#ffffff", "align": "center", "baseline": "middle"},
     "encoding": {
       "x": {"datum": 69.9, "type": "quantitative", "scale": {"domain": [-148, 852]}, "axis": null},
       "y": {"datum": -4.468, "type": "quantitative", "scale": {"domain": [-4, 4]}, "axis": null}}},
    {"mark": {"type": "text", "text": "2.00V", "font": "Liberation Sans", "fontSize": 14, "color": "#ff2d2d", "align": "left", "baseline": "alphabetic"},
     "encoding": {
       "x": {"datum": 103.3, "type": "quantitative", "scale": {"domain": [-148, 852]}, "axis": null},
       "y": {"datum": -4.585, "type": "quantitative", "scale": {"domain": [-4, 4]}, "axis": null}}},
    {"mark": {"type": "text", "text": "M 100us", "font": "Liberation Sans", "fontSize": 14, "color": "#222222", "align": "left", "baseline": "alphabetic"},
     "encoding": {
       "x": {"datum": 306.5, "type": "quantitative", "scale": {"domain": [-148, 852]}, "axis": null},
       "y": {"datum": -4.585, "type": "quantitative", "scale": {"domain": [-4, 4]}, "axis": null}}},
    {"mark": {"type": "text", "text": "Ch1 ∕ 11.0V", "font": "Liberation Sans", "fontSize": 14, "color": "#2e2ef2", "align": "left", "baseline": "alphabetic"},
     "encoding": {
       "x": {"datum": 580.8, "type": "quantitative", "scale": {"domain": [-148, 852]}, "axis": null},
       "y": {"datum": -4.585, "type": "quantitative", "scale": {"domain": [-4, 4]}, "axis": null}}},
    {"mark": {"type": "text", "text": "<10Hz", "font": "Liberation Sans", "fontSize": 14, "color": "#2e2ef2", "align": "left", "baseline": "alphabetic"},
     "encoding": {
       "x": {"datum": 746.9, "type": "quantitative", "scale": {"domain": [-148, 852]}, "axis": null},
       "y": {"datum": -4.585, "type": "quantitative", "scale": {"domain": [-4, 4]}, "axis": null}}},
    {"mark": {"type": "text", "text": "Aguarde...", "font": "Liberation Sans", "fontSize": 14, "color": "#1a1a1a", "align": "left", "baseline": "alphabetic"},
     "encoding": {
       "x": {"datum": -173.1, "type": "quantitative", "scale": {"domain": [-148, 852]}, "axis": null},
       "y": {"datum": -5.046, "type": "quantitative", "scale": {"domain": [-4, 4]}, "axis": null}}},
    {"mark": {"type": "text", "text": "Dec 17, 2021, 06:57", "font": "Liberation Sans", "fontSize": 13, "color": "#1a1a1a", "align": "right", "baseline": "alphabetic"},
     "encoding": {
       "x": {"datum": 877.1, "type": "quantitative", "scale": {"domain": [-148, 852]}, "axis": null},
       "y": {"datum": -5.046, "type": "quantitative", "scale": {"domain": [-4, 4]}, "axis": null}}}
  ]
}
